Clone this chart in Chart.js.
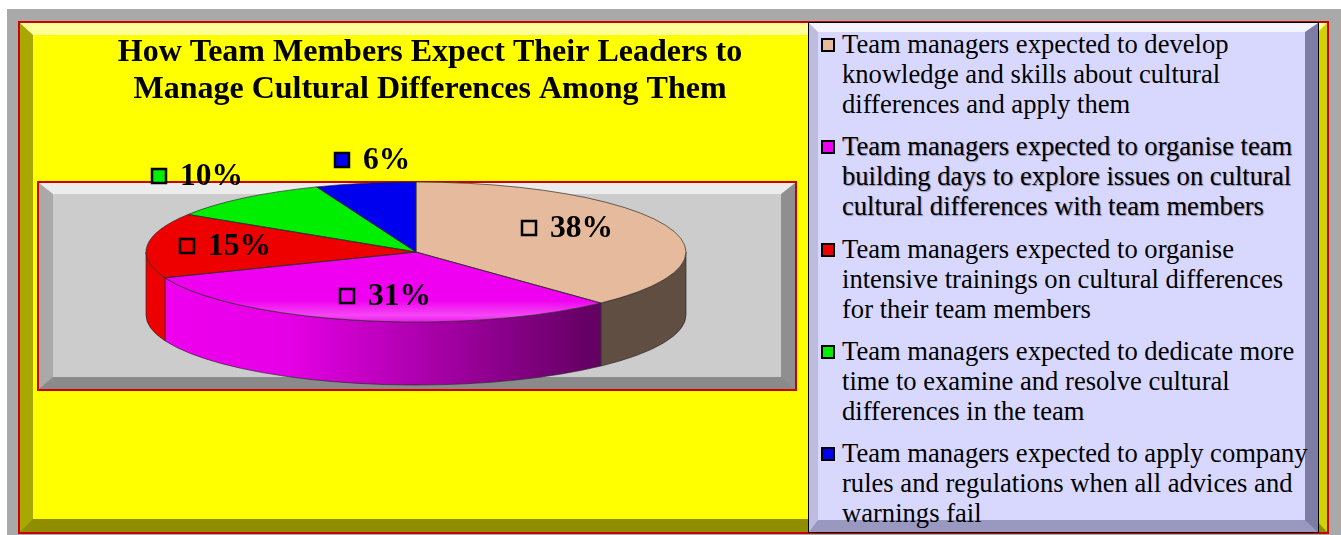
<!DOCTYPE html>
<html>
<head>
<meta charset="utf-8">
<script src="https://cdn.jsdelivr.net/npm/chart.js@4.4.1/dist/chart.umd.min.js"></script>
<style>
    html, body { margin: 0; padding: 0; background: #fff; }
    #page { position: relative; width: 1341px; height: 535px; overflow: hidden; }
    #frame { position: absolute; left: 7px; top: 9px; width: 1334px; height: 526px; background: #a9a9a9; }
    #panel { position: absolute; left: 18px; top: 21px; width: 1311px; height: 513px; box-sizing: border-box;
        background: #ffff00; border: 2px solid #cc0000; }
    #panel .bevel { position: absolute; left: 0; top: 0; right: 0; bottom: 0; box-sizing: border-box;
        border-style: solid; border-width: 12px 12px 13px 13px;
        border-color: #ffff9a #d2d200 #8e8e00 #a8a800; }
    #plotbox { position: absolute; left: 37px; top: 181px; width: 760px; height: 210px; box-sizing: border-box;
        background: #cccccc; border: 2px solid #cc0000; }
    #plotbox .bevel { position: absolute; left: 0; top: 0; right: 0; bottom: 0; box-sizing: border-box;
        border-style: solid; border-width: 11px 14px 12px 14px;
        border-color: #ececec #8f8f8f #8a8a8a #a9a9a9; }
    #legend { position: absolute; left: 808px; top: 22px; width: 511px; height: 511px; box-sizing: border-box;
        background: #d8d8ff; border: 1px solid #000; z-index: 3; }
    #legend .bevel { position: absolute; left: 0; top: 0; right: 0; bottom: 0; box-sizing: border-box;
        border-style: solid; border-width: 9px 13px 12px 9px;
        border-color: #f4f4ff #7c7ca4 #9898c0 #bcbce0; }
    #legend-items { position: absolute; left: 0; top: 6.2px; right: 0; }
    .item { position: relative; height: 90px; margin-bottom: 12.3px; padding-left: 33px;
        font: 26.6px "Liberation Serif", "Times New Roman", serif; line-height: 30px; color: #000; white-space: nowrap; }
    .item .key { position: absolute; left: 12px; top: 9px; width: 14px; height: 14px; box-sizing: border-box;
        border: 2px solid #000; }
    #chart-wrap { position: absolute; left: 0; top: 0; width: 860px; height: 535px; overflow: hidden; z-index: 2; }
    #chart-wrap canvas { display: block; }
</style>
</head>
<body>
<div id="page">
    <div id="frame"></div>
    <div id="panel"><div class="bevel"></div></div>
    <div id="plotbox"><div class="bevel"></div></div>
    <div id="legend"><div class="bevel"></div><div id="legend-items"></div></div>
    <div id="chart-wrap"><canvas id="chart-pie" width="860" height="720" style="width:860px;height:720px"></canvas></div>
</div>
<script>
const TITLE_LINES = ['How Team Members Expect Their Leaders to', 'Manage Cultural Differences Among Them'];

const CATEGORIES = [
    ['Team managers expected to develop', 'knowledge and skills about cultural', 'differences and apply them'],
    ['Team managers expected to organise team', 'building days to explore issues on cultural', 'cultural differences with team members'],
    ['Team managers expected to organise', 'intensive trainings on cultural differences', 'for their team members'],
    ['Team managers expected to dedicate more', 'time to examine and resolve cultural', 'differences in the team'],
    ['Team managers expected to apply company', 'rules and regulations when all advices and', 'warnings fail'],
];

const SHARES = [38, 31, 15, 10, 6];

const SLICE_COLORS = ['#e6ba9c', '#f000f0', '#ee0000', '#00ee00', '#0000ee'];

// 3d look of the pie
const PIE_CX = 416;
const PIE_CY = 252;
const PIE_R = 270;
const TILT = 70 / 270;
const DEPTH = 63;

// where each value label sits: fraction of radius along the slice middle, plus a small nudge
const LABEL_RADIUS = [0.6, 0.52, 0.71, 1.27, 0.87];
const LABEL_NUDGE = [[0, -8], [0, 9], [0, 0], [0, -7], [0, -31]];

function shade(hex, f) {
    const n = parseInt(hex.slice(1), 16);
    const r = Math.round(((n >> 16) & 255) * f);
    const g = Math.round(((n >> 8) & 255) * f);
    const b = Math.round((n & 255) * f);
    return `rgb(${r},${g},${b})`;
}

function arcProps(arc) {
    return arc.getProps(['x', 'y', 'startAngle', 'endAngle', 'outerRadius'], true);
}

const pie3dPlugin = {
    id: 'pie3d',
    beforeDatasetsDraw(chart) {
        const ctx = chart.ctx;
        const meta = chart.getDatasetMeta(0);
        const colors = chart.data.datasets[0].backgroundColor;

        // side walls (front half of the ring only)
        meta.data.forEach((arc, i) => {
            const p = arcProps(arc);
            const R = p.outerRadius;
            for (let k = -1; k <= 1; k++) {
                const lo = Math.max(p.startAngle, 2 * Math.PI * k);
                const hi = Math.min(p.endAngle, 2 * Math.PI * k + Math.PI);
                if (hi <= lo) continue;
                const grad = ctx.createLinearGradient(PIE_CX - R, 0, PIE_CX + R, 0);
                grad.addColorStop(0, shade(colors[i], 1));
                grad.addColorStop(0.26, shade(colors[i], 0.96));
                grad.addColorStop(0.82, shade(colors[i], 0.42));
                grad.addColorStop(1, shade(colors[i], 0.42));
                ctx.beginPath();
                ctx.ellipse(PIE_CX, PIE_CY, R, R * TILT, 0, lo, hi, false);
                ctx.ellipse(PIE_CX, PIE_CY + DEPTH, R, R * TILT, 0, hi, lo, true);
                ctx.closePath();
                ctx.fillStyle = grad;
                ctx.fill();
                ctx.lineWidth = 0.8;
                ctx.strokeStyle = 'rgba(40,40,40,0.85)';
                ctx.stroke();
            }
        });

        // squash the library's round pie into the tilted top face
        const c = arcProps(meta.data[0]);
        ctx.save();
        ctx.translate(PIE_CX, PIE_CY);
        ctx.scale(1, TILT);
        ctx.translate(-c.x, -c.y);
    },
    afterDatasetsDraw(chart) {
        const ctx = chart.ctx;
        ctx.restore();
        const meta = chart.getDatasetMeta(0);
        const ds = chart.data.datasets[0];
        const total = ds.data.reduce((s, v) => s + v, 0);

        // soft highlight along the front rim of the top face
        const R = arcProps(meta.data[0]).outerRadius;
        ctx.save();
        ctx.beginPath();
        ctx.ellipse(PIE_CX, PIE_CY, R, R * TILT, 0, 0, Math.PI * 2);
        ctx.clip();
        ctx.beginPath();
        ctx.rect(PIE_CX - R, PIE_CY + 15, 2 * R, R);
        ctx.clip();
        const hl = ctx.createLinearGradient(0, PIE_CY + R * TILT - 22, 0, PIE_CY + R * TILT);
        hl.addColorStop(0, 'rgba(255,255,255,0)');
        hl.addColorStop(0.7, 'rgba(255,255,255,0.28)');
        hl.addColorStop(1, 'rgba(255,255,255,0.08)');
        ctx.fillStyle = hl;
        ctx.fillRect(PIE_CX - R, PIE_CY, 2 * R, R);
        ctx.restore();

        // slice outlines on the top face
        ctx.save();
        ctx.lineWidth = 0.8;
        ctx.strokeStyle = 'rgba(40,40,40,0.85)';
        meta.data.forEach(arc => {
            const p = arcProps(arc);
            ctx.beginPath();
            ctx.moveTo(PIE_CX, PIE_CY);
            ctx.ellipse(PIE_CX, PIE_CY, p.outerRadius, p.outerRadius * TILT, 0, p.startAngle, p.endAngle, false);
            ctx.closePath();
            ctx.stroke();
        });
        ctx.restore();

        // value labels with a colour key
        ctx.save();
        ctx.font = 'bold 31.5px "Liberation Serif", "Times New Roman", serif';
        ctx.textBaseline = 'middle';
        ctx.textAlign = 'left';
        meta.data.forEach((arc, i) => {
            const p = arcProps(arc);
            const mid = (p.startAngle + p.endAngle) / 2;
            const f = LABEL_RADIUS[i];
            const px = PIE_CX + f * p.outerRadius * Math.cos(mid) + LABEL_NUDGE[i][0];
            const py = PIE_CY + f * p.outerRadius * TILT * Math.sin(mid) + LABEL_NUDGE[i][1];
            const text = Math.round((ds.data[i] / total) * 100) + '%';
            const tw = ctx.measureText(text).width;
            const key = 16;
            const gap = 13;
            const x0 = Math.round(px - (key + gap + tw) / 2);
            const ky = Math.round(py - key / 2 - 1);
            ctx.fillStyle = ds.backgroundColor[i];
            ctx.fillRect(x0, ky, key, key);
            ctx.lineWidth = 2.5;
            ctx.strokeStyle = '#000';
            ctx.strokeRect(x0 + 1, ky + 1, key - 2, key - 2);
            ctx.fillStyle = '#000';
            ctx.fillText(text, x0 + key + gap, py);
        });
        ctx.restore();
    },
};

const canvas = document.getElementById('chart-pie');
const chart = new Chart(canvas.getContext('2d'), {
    type: 'pie',
    data: {
        labels: CATEGORIES,
        datasets: [
            {
                data: SHARES,
                backgroundColor: SLICE_COLORS,
                borderWidth: 0,
                radius: PIE_R,
                clip: false,
            },
        ],
    },
    plugins: [pie3dPlugin],
    options: {
        responsive: false,
        devicePixelRatio: 1,
        animation: false,
        events: [],
        layout: { padding: 0 },
        plugins: {
            legend: { display: false },
            tooltip: { enabled: false },
            title: {
                display: true,
                text: TITLE_LINES,
                color: '#000',
                font: { family: '"Liberation Serif", "Times New Roman", serif', size: 32, weight: 'bold', lineHeight: 1.16 },
                padding: { top: 34, bottom: 10 },
            },
        },
    },
});

// legend on the right, built from the chart's own labels and colours
const legendItems = document.getElementById('legend-items');
chart.data.labels.forEach((lines, i) => {
    const item = document.createElement('div');
    item.className = 'item';
    const key = document.createElement('span');
    key.className = 'key';
    key.style.background = chart.data.datasets[0].backgroundColor[i];
    item.appendChild(key);
    lines.forEach((line, j) => {
        if (j) item.appendChild(document.createElement('br'));
        item.appendChild(document.createTextNode(line));
    });
    if (i === 1) item.style.textShadow = '1px 1px 1px rgba(0,0,0,0.35)';
    legendItems.appendChild(item);
});
</script>
</body>
</html>
